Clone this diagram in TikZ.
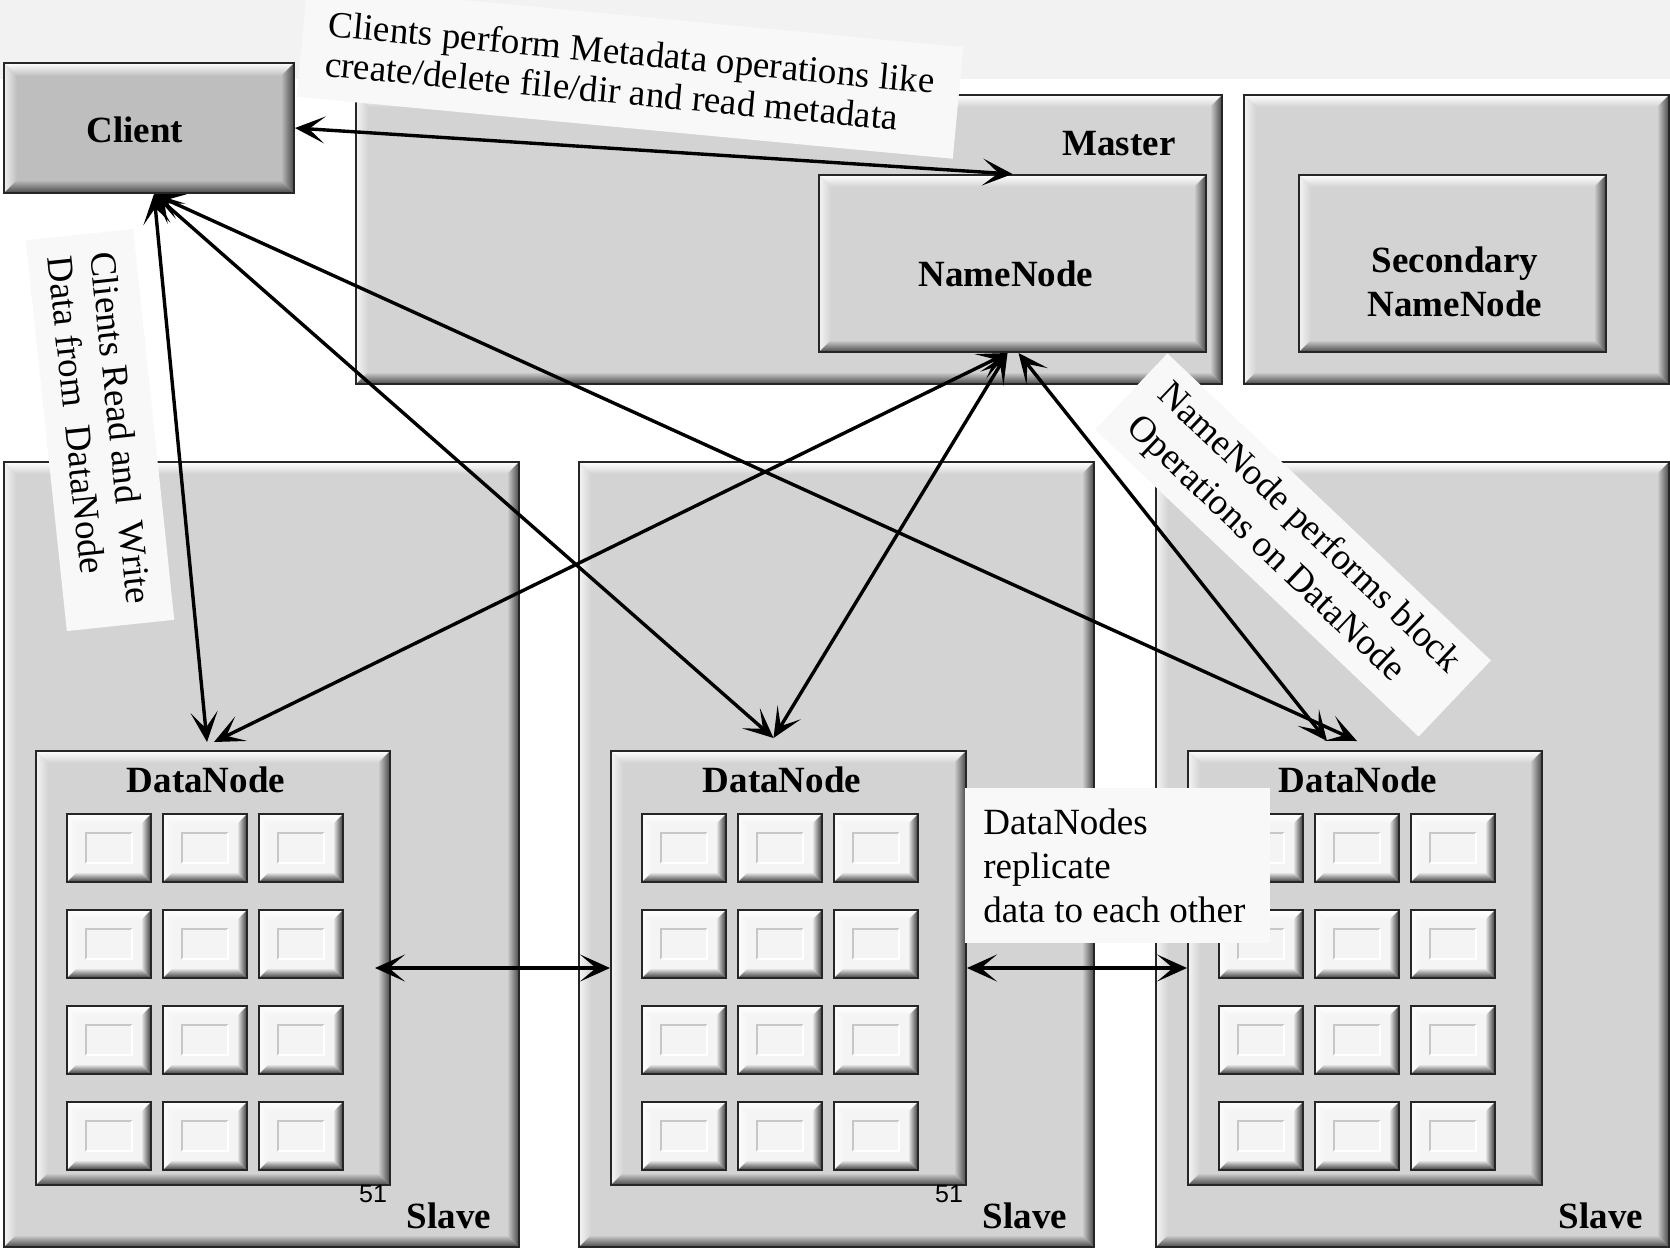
\documentclass[tikz,border=0pt]{standalone}
\usepackage{fontspec}
\setmainfont{Liberation Serif}
\newfontfamily\numfont{Liberation Sans}
\usetikzlibrary{calc,arrows.meta}

\definecolor{boxgray}{HTML}{D3D3D3}
\definecolor{clientgray}{HTML}{BEBEBE}
\definecolor{notegray}{HTML}{F8F8F8}
\definecolor{bandgray}{HTML}{F2F2F2}
\definecolor{cellgray}{HTML}{F4F4F4}

\tikzset{
  % raised box: #1 bevel width, #2 face colour, #3 shadow colour
  raised/.style n args={3}{
    fill=#2, draw=black!85, line width=1pt, inner sep=0pt, anchor=north west,
    path picture={
      \path (path picture bounding box.south west) coordinate (bvA)
            (path picture bounding box.north east) coordinate (bvB)
            (bvA|-bvB) coordinate (bvC)
            (bvB|-bvA) coordinate (bvD);
      \shade[top color=white, bottom color=#2]
        (bvC) -- (bvB) -- ($(bvB)+(-#1,-#1)$) -- ($(bvC)+(#1,-#1)$) -- cycle;
      \shade[left color=white!75!#2, right color=#2]
        (bvC) -- (bvA) -- ($(bvA)+(#1,#1)$) -- ($(bvC)+(#1,-#1)$) -- cycle;
      \shade[bottom color=#3, top color=#2]
        (bvA) -- (bvD) -- ($(bvD)+(-#1,#1)$) -- ($(bvA)+(#1,#1)$) -- cycle;
      \shade[right color=#3, left color=#2]
        (bvB) -- (bvD) -- ($(bvD)+(-#1,#1)$) -- ($(bvB)+(-#1,-#1)$) -- cycle;
    }},
  bigbox/.style={raised={6pt}{boxgray}{black!72}},
  cellbox/.style={raised={5pt}{cellgray}{black!78}, minimum width=42pt, minimum height=34pt},
  title/.style={font=\fontsize{18.5}{22}\selectfont\bfseries, inner sep=0pt, align=center},
  pagenum/.style={font=\numfont\fontsize{12.5}{14}\selectfont, inner sep=0pt},
  note/.style={fill=notegray, align=left, inner sep=0pt},
  conn/.style={>={Stealth[length=15pt,width=13.5pt,inset=8pt]}, <->, line width=1.7pt, black},
}

\begin{document}
\begin{tikzpicture}[x=0.5pt,y=-0.5pt]
\useasboundingbox (0,0) rectangle (1670,1248);
\fill[bandgray] (0,0) rectangle (1670,79);

% slave machines
\node[bigbox, minimum width=257.5pt, minimum height=392.5pt] (slave1) at (3,461) {};
\node[bigbox, minimum width=257.5pt, minimum height=392.5pt] (slave2) at (578,461) {};
\node[bigbox, minimum width=256.5pt, minimum height=392.5pt] (slave3) at (1155,461) {};

% master and secondary
\node[bigbox, minimum width=433pt, minimum height=144.5pt] (master) at (355,94) {};
\node[bigbox, minimum width=193.5pt, minimum height=88.5pt] (namenode) at (818,174) {};
\node[bigbox, minimum width=212.5pt, minimum height=144.5pt] (secouter) at (1243,94) {};
\node[bigbox, minimum width=153.5pt, minimum height=88.5pt] (secnn) at (1298,174) {};

% client
\node[raised={6.5pt}{clientgray}{black!72}, minimum width=145pt, minimum height=65pt] (client) at (3,62) {};

% data nodes
\node[bigbox, minimum width=177pt, minimum height=217pt] (dn1) at (35,750) {};
\node[bigbox, minimum width=177.5pt, minimum height=217pt] (dn2) at (610,750) {};
\node[bigbox, minimum width=177pt, minimum height=217pt] (dn3) at (1187,750) {};

% storage blocks inside each data node
\foreach \dn/\ox in {1/0,2/575,3/1152}{
  \foreach \col/\cx in {1/66,2/162,3/258}{
    \foreach \row/\cy in {1/813,2/909,3/1005,4/1101}{
      \node[cellbox] (cell-\dn-\col-\row) at (\cx+\ox,\cy) {};
      \draw[black!22, line width=0.7pt]
        ([shift={(10pt,10pt)}]cell-\dn-\col-\row.south west) |-
        ([shift={(-10pt,-10pt)}]cell-\dn-\col-\row.north east);
      \draw[white, line width=0.7pt]
        ([shift={(10pt,10pt)}]cell-\dn-\col-\row.south west) -|
        ([shift={(-10pt,-10pt)}]cell-\dn-\col-\row.north east);
    }}}

% titles
\node[title] (tClient) at (135,130) {Client};
\node[title] (tMaster) at (1119,144) {Master};
\node[title] (tNN) at (1006,274) {NameNode};
\node[title] (tSec) at (1455,282) {Secondary\\NameNode};
\node[title] (tDN1) at (206,780) {DataNode};
\node[title] (tDN2) at (782,780) {DataNode};
\node[title] (tDN3) at (1358,780) {DataNode};
\node[title] (tSl1) at (449,1216) {Slave};
\node[title] (tSl2) at (1025,1216) {Slave};
\node[title] (tSl3) at (1601,1216) {Slave};
\node[pagenum] (pn1) at (373,1194) {51};
\node[pagenum] (pn2) at (949,1194) {51};

% connector end points
\coordinate (cbot) at ([xshift=2.5pt]client.south);
\coordinate (nnA) at ([xshift=-2.5pt]namenode.south);
\coordinate (nnB) at ([xshift=3pt]namenode.south);
\coordinate (dn1a) at ([xshift=-3pt,yshift=4pt]dn1.north);
\coordinate (dn1b) at ([xshift=0.5pt,yshift=4pt]dn1.north);
\coordinate (dn2a) at ([xshift=-7.5pt,yshift=6pt]dn2.north);
\coordinate (dn3a) at ([xshift=-19pt,yshift=4.5pt]dn3.north);
\coordinate (dn3b) at ([xshift=-4pt,yshift=4.5pt]dn3.north);
\coordinate (dn1r) at ([xshift=-8pt]dn1.east);

% metadata, read/write and block traffic
\draw[conn] (client.east) -- (namenode.north);
\draw[conn] (cbot) -- (dn1a);
\draw[conn] (cbot) -- (dn2a);
\draw[conn] (cbot) -- (dn3b);
\draw[conn] (nnA) -- (dn1b);
\draw[conn] (nnA) -- (dn2a);
\draw[conn] (nnB) -- (dn3a);
% replication between data nodes
\draw[conn] (dn1r) -- (dn2.west);
\draw[conn] (dn2.east) -- (dn3.west);

% notes
\node[note, rotate=-5.4, minimum width=329.5pt, minimum height=56pt,
      font=\fontsize{18.5}{20}\selectfont] (nMeta) at (630,72)
  {Clients perform Metadata operations like\\create/delete file/dir and read metadata};
\node[note, rotate=-84, minimum width=196.5pt, minimum height=54pt,
      font=\fontsize{18.5}{21.5}\selectfont] (nRW) at (100,430)
  {Clients Read and\ \ Write\\Data from\ \ DataNode};
\node[note, rotate=-43.5, minimum width=223pt, minimum height=52.5pt,
      font=\fontsize{18.5}{22.5}\selectfont] (nBlock) at (1293,545)
  {NameNode performs block\\Operations on DataNode};
\node[note, anchor=north west, minimum width=152.5pt, minimum height=77.5pt] (nRep) at (965,788) {};
\node[align=left, anchor=west, inner sep=0pt, font=\fontsize{18.5}{22}\selectfont]
  (tRep) at ([xshift=9pt,yshift=0pt]nRep.west)
  {DataNodes\\replicate\\data to each other};
\end{tikzpicture}
\end{document}
